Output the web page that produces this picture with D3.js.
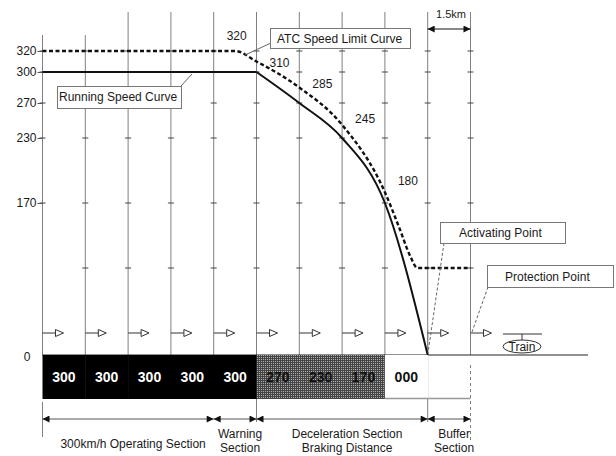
<html>
<head>
    <title>ATC speed control</title>
    <meta charset="UTF-8" />
    <script src="https://d3js.org/d3.v7.min.js"></script>
    <style>
        body { margin: 0; background: #fff; }
        svg text { font-family: "Liberation Sans", Arial, sans-serif; fill: #1a1a1a; }
        .grid line { stroke: #808080; stroke-width: 1; }
        .axis .domain { stroke: none; }
        .axis line { stroke: #555; }
        .box rect { fill: #fff; stroke: #777; stroke-width: 1; }
    </style>
</head>

<body>
    <svg height="456" width="616" id="svg1"></svg>

    <script>
        // ---- data ----
        const blockEdges = [0, 1, 2, 3, 4, 5, 6, 7, 8, 9, 10];
        const speedLevels = [0, 100, 170, 230, 270, 300, 320];
        const axisTicks = [170, 230, 270, 300, 320];
        const atcCurve = [[0, 320], [4.5, 320], [5, 310], [6, 285], [7, 245], [8, 180],
                          [8.33, 144], [8.6, 112], [8.76, 100], [10, 100]];
        const runningFlat = [[0, 300], [5, 300]];
        const runningBrake = [[5, 300], [6, 270], [7, 230], [8, 170], [9, 0]];
        const atcSteps = [320, 310, 285, 245, 180];
        const atcStepEdges = [4, 5, 6, 7, 8];
        const blockCodes = ["300", "300", "300", "300", "300", "270", "230", "170", "000"];
        const sections = [
            { from: 0, to: 4, text: ["300km/h Operating Section"] },
            { from: 4, to: 5, text: ["Warning", "Section"] },
            { from: 5, to: 9, text: ["Deceleration Section", "Braking Distance"] },
            { from: 9, to: 10, text: ["Buffer", "Section"] }
        ];

        // ---- setup ----
        const svg1 = d3.select("svg#svg1");

        const x = d3.scaleLinear().domain([0, 10]).range([42.5, 470.5]);
        // schematic, piecewise speed axis
        const y = d3.scaleLinear().domain(speedLevels).range([355, 268, 203, 138, 103, 72, 51]);

        const defs = svg1.append("defs");
        const pat = defs.append("pattern").attr("id", "screen")
            .attr("width", 2).attr("height", 2).attr("patternUnits", "userSpaceOnUse");
        pat.append("rect").attr("width", 2).attr("height", 2).attr("fill", "#444");
        pat.append("rect").attr("x", 1).attr("y", 1).attr("width", 1).attr("height", 1).attr("fill", "#b0b0b0");

        defs.append("marker").attr("id", "arrow")
            .attr("viewBox", "0 0 10 10").attr("refX", 10).attr("refY", 5)
            .attr("markerWidth", 12).attr("markerHeight", 7)
            .attr("markerUnits", "userSpaceOnUse")
            .attr("orient", "auto-start-reverse")
            .append("path").attr("d", "M0,0L10,5L0,10z").attr("fill", "#111");

        // ---- grid ----
        const grid = svg1.append("g").attr("class", "grid");
        grid.selectAll("line.v").data(blockEdges).join("line")
            .attr("class", "v")
            .attr("x1", d => x(d)).attr("x2", d => x(d))
            .attr("y1", d => d < 2 ? 35 : 12).attr("y2", y(0));

        const crossLevels = speedLevels.filter(v => v > 0);
        blockEdges.forEach(e => {
            grid.selectAll(null).data(crossLevels.filter(v => e > 0 || v !== 100)).join("line")
                .attr("x1", x(e) - 3).attr("x2", x(e) + 3)
                .attr("y1", d => y(d)).attr("y2", d => y(d))
                .style("stroke", "#444");
        });

        // extension lines below the bar
        const ext = [[0, 402, 437], [5, 355, 422], [9, 330, 422], [10, 365, 440]];
        grid.selectAll("line.ext").data(ext).join("line")
            .attr("class", "ext")
            .attr("x1", d => x(d[0])).attr("x2", d => x(d[0]))
            .attr("y1", d => d[1]).attr("y2", d => d[2])
            .style("stroke-dasharray", d => d[0] === 10 ? "3,3" : null);

        // ---- y axis ----
        const leftAxis = d3.axisLeft(y).tickValues(axisTicks).tickSize(5).tickPadding(1);
        svg1.append("g").attr("class", "axis")
            .attr("transform", "translate(" + x(0) + ",0)")
            .call(leftAxis)
            .selectAll("text").style("font-size", "12px").style("font-family", null);
        svg1.append("text").attr("x", 27).attr("y", y(0) + 6)
            .attr("text-anchor", "middle").style("font-size", "12px").text("0");

        // ---- speed curves ----
        const lineGen = d3.line().x(d => x(d[0])).y(d => y(d[1]));
        svg1.append("path")
            .attr("d", lineGen.curve(d3.curveMonotoneX)(atcCurve))
            .attr("fill", "none").attr("stroke", "#111")
            .attr("stroke-width", 2.4).attr("stroke-dasharray", "4,2.5");
        svg1.append("path")
            .attr("d", lineGen.curve(d3.curveLinear)(runningFlat))
            .attr("fill", "none").attr("stroke", "#111").attr("stroke-width", 2);
        svg1.append("path")
            .attr("d", lineGen.curve(d3.curveMonotoneX)(runningBrake))
            .attr("fill", "none").attr("stroke", "#111").attr("stroke-width", 2);

        const stepDy = [-11, 5.5, 0, -2, -7];
        svg1.selectAll("text.step").data(atcSteps).join("text")
            .attr("class", "step")
            .attr("x", (d, i) => x(atcStepEdges[i]) + 23)
            .attr("y", (d, i) => y(d) + stepDy[i])
            .attr("text-anchor", "middle")
            .style("font-size", "12px")
            .text(d => d);

        // ---- track baseline, block bar ----
        svg1.append("line").attr("x1", x(0)).attr("x2", 588)
            .attr("y1", y(0)).attr("y2", y(0)).attr("stroke", "#222");

        const barTop = y(0), barH = 44;
        svg1.selectAll("rect.block").data(blockCodes).join("rect")
            .attr("class", "block")
            .attr("x", (d, i) => x(i)).attr("width", x(1) - x(0) + 0.5)
            .attr("y", barTop).attr("height", barH)
            .attr("fill", (d, i) => i < 5 ? "#000" : (i < 8 ? "url(#screen)" : "#fff"));
        svg1.append("line").attr("x1", x(8)).attr("x2", x(10))
            .attr("y1", barTop + barH - 0.5).attr("y2", barTop + barH - 0.5)
            .attr("stroke", "#999").attr("stroke-width", 1.5);

        svg1.selectAll("text.code").data(blockCodes).join("text")
            .attr("class", "code")
            .attr("x", (d, i) => x(i + 0.5)).attr("y", barTop + 27)
            .attr("text-anchor", "middle")
            .style("font-size", "14px").style("font-weight", "bold")
            .style("fill", (d, i) => i < 5 ? "#fff" : "#111")
            .text(d => d);

        // ---- signal arrows ----
        const sig = svg1.append("g");
        sig.selectAll("line").data(blockEdges).join("line")
            .attr("x1", d => x(d)).attr("x2", d => x(d) + 13)
            .attr("y1", 333).attr("y2", 333).attr("stroke", "#333");
        sig.selectAll("path").data(blockEdges).join("path")
            .attr("d", d => "M" + (x(d) + 13) + ",329.5L" + (x(d) + 21) + ",333L" + (x(d) + 13) + ",336.5z")
            .attr("fill", "#fff").attr("stroke", "#333");

        // train
        svg1.append("line").attr("x1", 503).attr("x2", 542).attr("y1", 334).attr("y2", 334).attr("stroke", "#333");
        svg1.append("line").attr("x1", 522).attr("x2", 522).attr("y1", 334).attr("y2", 340).attr("stroke", "#333");
        svg1.append("ellipse").attr("cx", 522).attr("cy", 346.5).attr("rx", 19).attr("ry", 6.5)
            .attr("fill", "#fff").attr("stroke", "#333");
        svg1.append("text").attr("x", 522).attr("y", 351).attr("text-anchor", "middle")
            .style("font-size", "12px").text("Train");

        // ---- 1.5km dimension ----
        svg1.append("line").attr("x1", x(9)).attr("x2", x(10)).attr("y1", 29).attr("y2", 29)
            .attr("stroke", "#111").attr("marker-start", "url(#arrow)").attr("marker-end", "url(#arrow)");
        svg1.append("text").attr("x", 451).attr("y", 18).attr("text-anchor", "middle")
            .style("font-size", "11px").text("1.5km");

        // ---- section dimensions ----
        const dims = svg1.append("g");
        dims.selectAll("line").data(sections).join("line")
            .attr("x1", d => x(d.from)).attr("x2", d => x(d.to))
            .attr("y1", 419).attr("y2", 419)
            .attr("stroke", "#555")
            .attr("marker-start", "url(#arrow)").attr("marker-end", "url(#arrow)");
        sections.forEach(s => {
            const cx = (x(s.from) + x(s.to)) / 2 + 5;
            s.text.forEach((t, k) => {
                dims.append("text")
                    .attr("x", cx)
                    .attr("y", s.text.length === 1 ? 448 : 438 + k * 14)
                    .attr("text-anchor", "middle")
                    .style("font-size", "12px")
                    .text(t);
            });
        });

        // ---- annotation boxes ----
        const boxes = [
            { text: "ATC Speed Limit Curve", bx: 270, by: 28, w: 140, h: 20, tx: 277, ty: 43, lead: [271, 43, 245, 55], dash: null },
            { text: "Running Speed Curve", bx: 57, by: 86, w: 124, h: 22, tx: 59, ty: 101, lead: [181, 86, 192, 74], dash: null },
            { text: "Activating Point", bx: 440, by: 222, w: 125, h: 21, tx: 459, ty: 237, lead: [444, 243, 428, 353], dash: "3,2" },
            { text: "Protection Point", bx: 487, by: 265, w: 126, h: 22, tx: 505, ty: 281, lead: [488, 287, 472, 332], dash: "3,2" }
        ];
        const bg = svg1.selectAll("g.box").data(boxes).join("g").attr("class", "box");
        bg.append("line")
            .attr("x1", d => d.lead[0]).attr("y1", d => d.lead[1])
            .attr("x2", d => d.lead[2]).attr("y2", d => d.lead[3])
            .attr("stroke", "#666").attr("stroke-dasharray", d => d.dash);
        bg.append("rect")
            .attr("x", d => d.bx + 0.5).attr("y", d => d.by + 0.5)
            .attr("width", d => d.w).attr("height", d => d.h);
        bg.append("text")
            .attr("x", d => d.tx).attr("y", d => d.ty)
            .style("font-size", "12px")
            .text(d => d.text);
    </script>
</body>
</html>
